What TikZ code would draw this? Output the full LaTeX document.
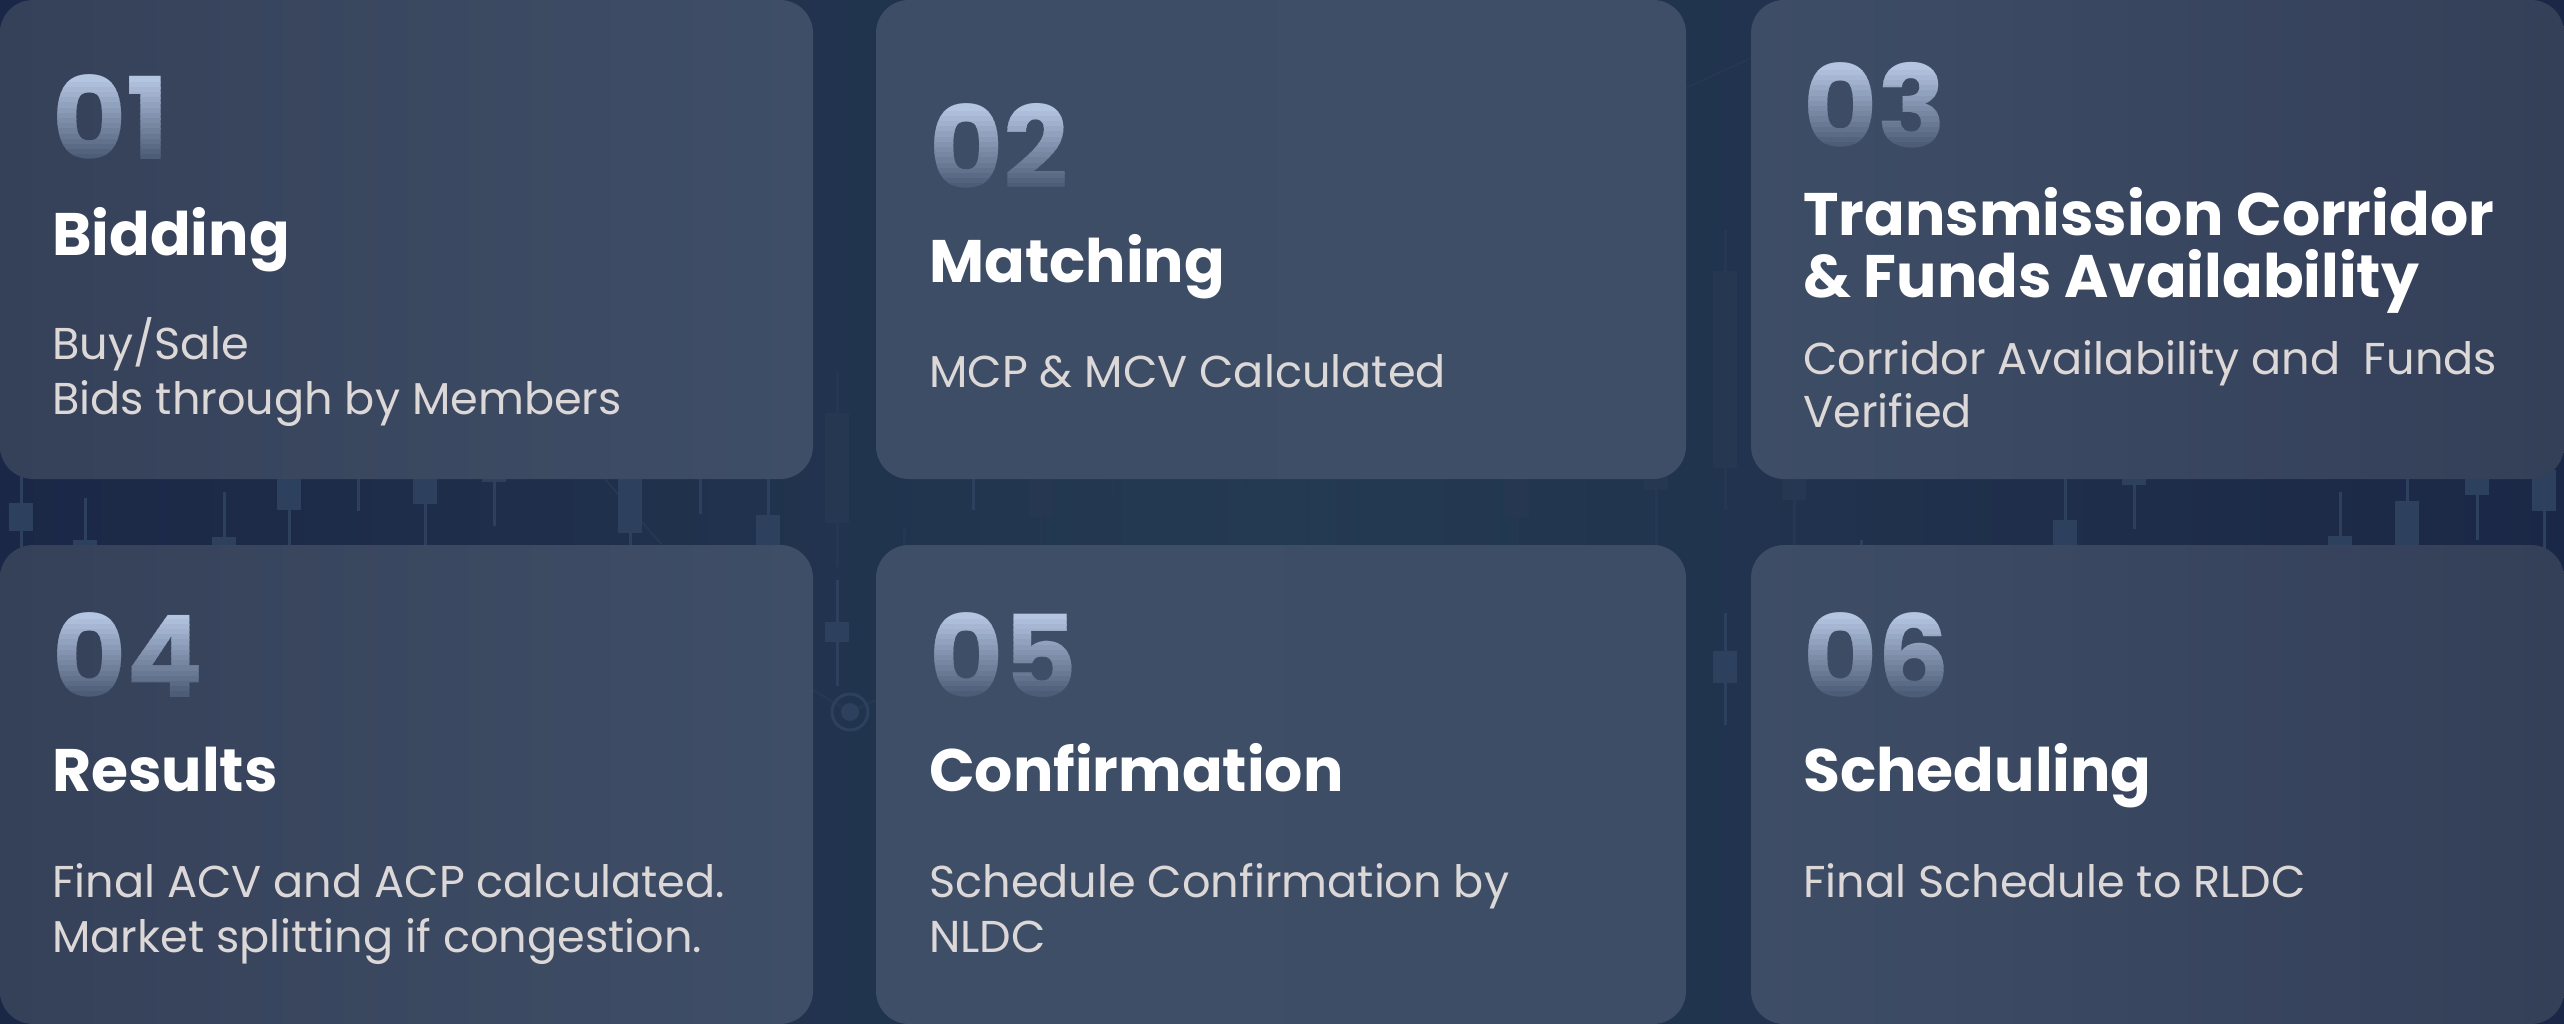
\documentclass[tikz,border=0pt]{standalone}
\usepackage{fontspec}
\setmainfont{Poppins}
\definecolor{bgdark}{HTML}{1B2746}
\definecolor{bgmid}{HTML}{243A52}
\definecolor{candle}{HTML}{2D405E}
\definecolor{candlefaint}{HTML}{263751}
\definecolor{cardA}{HTML}{354159}
\definecolor{cardB}{HTML}{3F4E67}
\definecolor{cardC}{HTML}{3E4D66}
\definecolor{cardD}{HTML}{343F58}
\definecolor{desccol}{HTML}{DDD8D8}
\definecolor{numtop}{HTML}{B4C5E2}
\definecolor{numbot}{HTML}{4E5D77}
\tikzset{
  cardbox/.style={rounded corners=33pt},
  titletxt/.style={anchor=base west, inner sep=0pt, text=white, font=\fontsize{60}{60}\selectfont\bfseries},
  desctxt/.style={anchor=base west, inner sep=0pt, text=desccol, font=\fontsize{44.6}{44.6}\selectfont},
  numtxt/.style={anchor=base west, inner sep=0pt, font=\fontsize{114}{114}\selectfont\bfseries},
  wick/.style={draw=candle, line width=3pt},
  faintwick/.style={draw=candlefaint, line width=3pt},
}
% candle parts: x, top, bottom
\newcommand{\mywick}[4][wick]{\draw[#1] (#2,#3) -- (#2,#4);}
\newcommand{\mybody}[4][candle]{\fill[#1] (#2-12,#3) rectangle (#2+12,#4);}
% gradient number: name, x, baseline, text
\newcommand{\gradnum}[4]{%
  \foreach \i in {0,...,15}{%
    \pgfmathsetmacro{\ya}{#3-83+\i*83/16-(\i==0)*30}%
    \pgfmathsetmacro{\yb}{#3-83+(\i+1)*83/16+(\i==15)*30+0.8}%
    \pgfmathtruncatemacro{\p}{100-\i*100/15}%
    \begin{scope}
      \clip (#2-10,\ya) rectangle (#2+260,\yb);
      \node[numtxt, text=numtop!\p!numbot] (#1s\i) at (#2,#3) {#4};
    \end{scope}
  }%
}
\begin{document}
\begin{tikzpicture}[x=1pt,y=-1pt]
\useasboundingbox (0,0) rectangle (2564,1024);
% background
\shade[left color=bgdark, right color=bgdark, middle color=bgmid] (0,0) rectangle (2564,1024);
% faint chart lines
\draw[candlefaint, line width=2pt] (605,479) -- (662,545);
\draw[candlefaint, line width=2pt] (1202,479) -- (1145,545);
\draw[candlefaint, line width=2pt] (1686,88) -- (1751,58);
\draw[candlefaint, line width=2.5pt] (813,690) -- (850,712) -- (876,700);
\draw[candle, line width=3pt] (850,712) circle (18pt);
\fill[candle] (850,712) circle (9pt);
% candles in the horizontal gap
\mywick{21}{470}{560}\mybody{21}{503}{531}
\mywick{85}{498}{560}\mybody{85}{540}{560}
\mywick{224}{492}{560}\mybody{224}{537}{560}
\mywick{289}{470}{560}\mybody{289}{470}{510}
\mywick{358}{470}{511}
\mywick{425}{470}{560}\mybody{425}{470}{504}
\mywick{494}{470}{526}\mybody{494}{470}{482}
\mywick{630}{470}{560}\mybody{630}{470}{533}
\mywick{700}{470}{514}
\mywick{768}{470}{560}\mybody{768}{515}{560}
\mywick[faintwick]{904}{529}{560}
\mywick{973}{470}{510}
\mywick[faintwick]{1041}{470}{560}\mybody[candlefaint]{1041}{470}{517}
\mywick[faintwick]{1112}{470}{500}
\mywick[faintwick]{1246}{470}{490}
\mywick[faintwick]{1308}{470}{560}
\mywick[faintwick]{1382}{470}{560}
\mywick[faintwick]{1517}{470}{560}\mybody[candlefaint]{1517}{470}{517}
\mywick[faintwick]{1656}{470}{560}\mybody[candlefaint]{1656}{470}{490}
\mywick[faintwick]{1794}{470}{560}\mybody[candlefaint]{1794}{470}{500}
\mywick{1861}{540}{560}
\mywick{2065}{470}{560}\mybody{2065}{520}{560}
\mywick{2134}{470}{529}\mybody{2134}{470}{485}
\mywick{2340}{492}{560}\mybody{2340}{536}{560}
\mywick{2407}{470}{560}\mybody{2407}{501}{560}
\mywick{2477}{470}{540}\mybody{2477}{470}{495}
\mywick{2544}{470}{560}\mybody{2544}{470}{511}
% candles in the vertical gaps
\mywick[faintwick]{837}{372}{567}\mybody[candlefaint]{837}{413}{523}
\mywick{837}{580}{686}\mybody{837}{622}{642}
\mywick[faintwick]{1725}{230}{510}\mybody[candlefaint]{1725}{271}{468}
\mywick{1725}{613}{725}\mybody{1725}{651}{683}
% cards
\shade[cardbox, left color=cardA, right color=cardB] (0,0) rectangle (813,479);
\shade[cardbox, left color=cardC, right color=cardB] (876,0) rectangle (1686,479);
\shade[cardbox, left color=cardC, right color=cardD] (1751,0) rectangle (2564,479);
\shade[cardbox, left color=cardA, right color=cardB] (0,545) rectangle (813,1024);
\shade[cardbox, left color=cardB, right color=cardC] (876,545) rectangle (1686,1024);
\shade[cardbox, left color=cardC, right color=cardD] (1751,545) rectangle (2564,1024);
% numbers
\gradnum{n1}{52}{160}{01}
\gradnum{n2}{929}{189}{02}
\gradnum{n3}{1803}{148}{03}
\gradnum{n4}{52}{697}{04}
\gradnum{n5}{929}{697}{05}
\gradnum{n6}{1803}{697}{06}
% titles
\node[titletxt] (t1) at (52,256) {Bidding};
\node[titletxt] (t2) at (929,283) {Matching};
\node[titletxt] (t3a) at (1803,236) {Transmission Corridor};
\node[titletxt] (t3b) at (1803,298) {\& Funds Availability};
\node[titletxt] (t4) at (52,791) {Results};
\node[titletxt] (t5) at (929,791) {Confirmation};
\node[titletxt] (t6) at (1803,791) {Scheduling};
% descriptions
\node[desctxt] (d1a) at (52,359) {Buy/Sale};
\node[desctxt] (d1b) at (52,414) {Bids through by Members};
\node[desctxt] (d2) at (929,387) {MCP \& MCV Calculated};
\node[desctxt] (d3a) at (1803,374) {Corridor Availability and\ \ Funds};
\node[desctxt] (d3b) at (1803,427) {Verified};
\node[desctxt] (d4a) at (52,897) {Final ACV and ACP calculated.};
\node[desctxt] (d4b) at (52,952) {Market splitting if congestion.};
\node[desctxt] (d5a) at (929,897) {Schedule Confirmation by};
\node[desctxt] (d5b) at (929,952) {NLDC};
\node[desctxt] (d6) at (1803,897) {Final Schedule to RLDC};
\end{tikzpicture}
\end{document}
